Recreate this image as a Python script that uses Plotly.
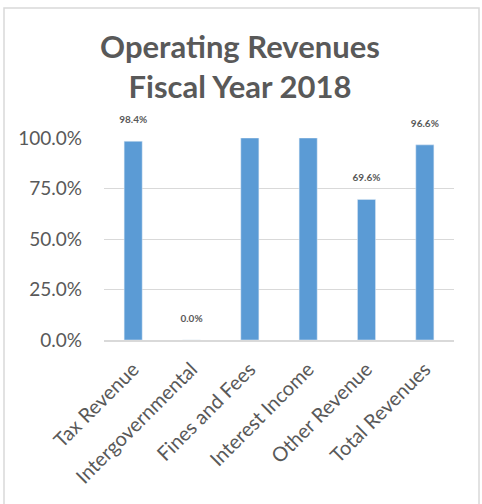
import plotly.graph_objects as go

categories = ["Tax Revenue", "Intergovernmental", "Fines and Fees",
              "Interest Income", "Other Revenue", "Total Revenues"]
values = [0.984, 0.0, 1.0, 1.0, 0.696, 0.966]
# Fines and Fees / Interest Income run past the top of the axis; their labels are cut off
label_shown = [True, True, False, False, True, True]

W, H = 482, 504
L, R, T, B = 104, 28, 138, 164
pw, ph = W - L - R, H - T - B

labels = [f"{v*100:.1f}%<br> " if s else "" for v, s in zip(values, label_shown)]

fig = go.Figure(go.Bar(
    x=categories, y=values, text=labels, textposition="outside",
    marker_color="#5b9bd5", cliponaxis=False, constraintext="none",
    textfont=dict(family="Lato", size=10, color="#595959", weight="bold"),
))

fig.update_layout(
    width=W, height=H,
    margin=dict(l=L, r=R, t=T, b=B),
    paper_bgcolor="white", plot_bgcolor="white",
    bargap=0.69, showlegend=False,
    font=dict(family="Lato", color="#595959"),
    title=dict(text="<b>Operating Revenues<br>Fiscal Year 2018</b>",
               x=240 / W, xanchor="center", y=1 - 58 / H, yanchor="middle",
               font=dict(family="Lato", size=31, color="#595959")),
)
fig.update_yaxes(range=[0, 1.0], tickvals=[0, 0.25, 0.5, 0.75, 1.0],
                 tickformat=".1%", showgrid=True, gridcolor="#d9d9d9",
                 gridwidth=1, zeroline=False, showline=False,
                 ticklabelstandoff=21,
                 tickfont=dict(family="Lato", size=19, color="#595959"))
fig.update_xaxes(tickangle=-45, showline=True, linecolor="#d9d9d9",
                 linewidth=1.5, showgrid=False,
                 ticks="outside", ticklen=8, tickcolor="rgba(0,0,0,0)",
                 tickfont=dict(family="Lato", size=20, color="#595959"))

fig.add_shape(type="rect", xref="paper", yref="paper",
              x0=(4 - L) / pw, x1=(479 - L) / pw,
              y0=-(510 - (T + ph)) / ph, y1=1 + (T - 8) / ph,
              line=dict(color="#d9d9d9", width=1.5), fillcolor="rgba(0,0,0,0)",
              layer="below")

fig.write_html("out.html", config={"displayModeBar": False},
               post_script="document.body.style.margin='0px';")
